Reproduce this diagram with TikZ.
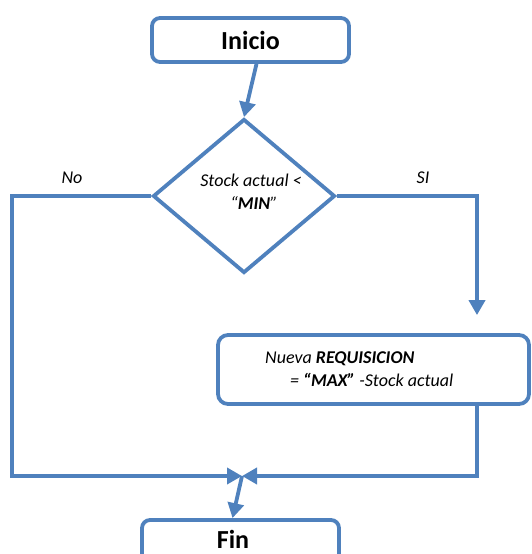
\documentclass[tikz,border=0pt]{standalone}
\usepackage{fontspec}
\setmainfont{Carlito}
\usetikzlibrary{shapes.geometric,arrows.meta,calc}
\definecolor{flowblue}{RGB}{79,129,189}
\begin{document}
\begin{tikzpicture}[x=1pt,y=-1pt,
  line/.style={draw=flowblue, line width=3.8pt},
  arr/.style={line, -{Triangle[length=15pt,width=16pt]}},
  termbox/.style={line, rounded corners=8pt, fill=white, minimum width=197pt, minimum height=44pt, inner sep=0pt, font=\fontsize{26}{30}\selectfont\bfseries},
  termtxt/.style={inner sep=0pt, font=\fontsize{26}{30}\selectfont\bfseries},
  procbox/.style={line, rounded corners=10pt, fill=white, minimum width=311pt, minimum height=69pt, inner sep=0pt},
  decbox/.style={line, shape=diamond, fill=white, minimum width=182pt, minimum height=154pt, inner sep=0pt},
  txt/.style={inner sep=0pt, font=\fontsize{18}{22}\selectfont\itshape}
]
\useasboundingbox (0,0) rectangle (531,554);
\clip (0,0) rectangle (531,554);

\coordinate (lx) at (12,0);
\coordinate (rx) at (477,0);
\coordinate (merge) at (242,476);

\node[termbox] (inicio) at (250.5,40) {Inicio};
\node[decbox] (dec) at (244,196) {};
\node[txt, anchor=base] (dt1) at (251,186) {Stock actual <};
\node[txt, anchor=base] (dt2) at (254,209) {“\textbf{MIN}”};

\node[procbox] (proc) at (373.5,369.5) {};
\node[txt, anchor=base west] (pt1) at (265,363) {Nueva \textbf{REQUISICION}};
\node[txt, anchor=base west] (pt2) at (290,386) {= \textbf{“MAX”} -Stock actual};

\node[termbox] (fin) at (240.5,542) {};
\node[termtxt, anchor=base] (fintxt) at (233,548) {Fin};

\node[txt, anchor=base] (lblno) at (72,183) {No};
\node[txt, anchor=base] (lblsi) at (423,183) {SI};

\draw[arr] ([xshift=6pt]inicio.south) -- (dec.north);
\draw[arr] (dec.west) -| (lx |- merge) -- (merge);
\draw[arr, shorten >=18pt] (dec.east) -| (proc.north -| rx);
\draw[arr] (proc.south -| rx) |- (merge);
\draw[arr] (merge) -- ([xshift=-8pt]fin.north);
\end{tikzpicture}
\end{document}
